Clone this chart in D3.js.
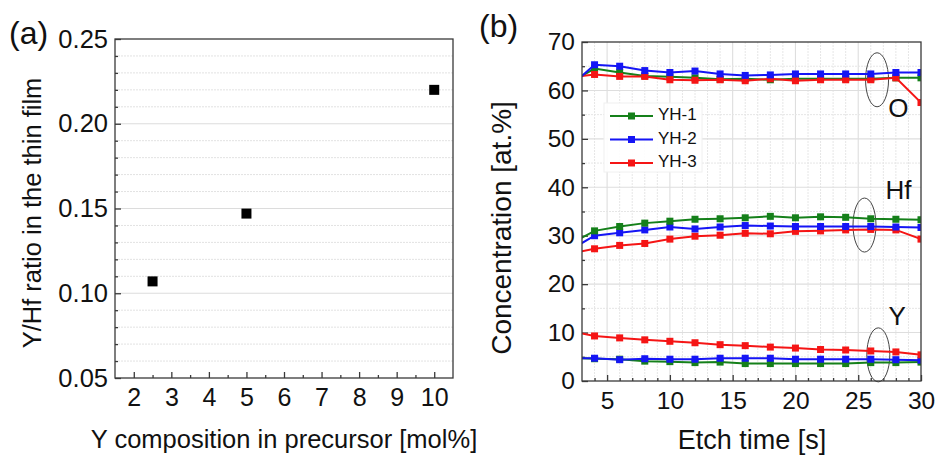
<!DOCTYPE html>
<html>
<head>
<meta charset="utf-8">
<script src="https://cdn.jsdelivr.net/npm/d3@7"></script>
<style>
  html, body { margin: 0; padding: 0; background: #fff; }
  svg { display: block; }
  svg text { font-family: Arial, "Liberation Sans", sans-serif; }
</style>
</head>
<body>
<svg id="chart" width="935" height="455"></svg>
<script>
// ---- Panel (a): Y/Hf ratio vs precursor composition ----
const precursorY = [2.5, 5, 10];
const ratioYHf = [0.107, 0.147, 0.220];
const aXTicks = [2, 3, 4, 5, 6, 7, 8, 9, 10];
const aYTicks = [0.05, 0.10, 0.15, 0.20, 0.25];

// ---- Panel (b): depth profile vs etch time ----
const etchTime = [2, 4, 6, 8, 10, 12, 14, 16, 18, 20, 22, 24, 26, 28, 30];
const seriesNames = ["YH-1", "YH-2", "YH-3"];
const oYH1  = [61.5, 64.5, 63.7, 63.0, 62.8, 62.6, 62.3, 62.4, 62.2, 62.4, 62.4, 62.4, 62.4, 62.6, 62.6];
const oYH2  = [60.7, 65.3, 65.0, 64.1, 63.7, 64.0, 63.4, 63.1, 63.2, 63.4, 63.4, 63.4, 63.4, 63.7, 63.7];
const oYH3  = [62.7, 63.3, 62.9, 62.9, 62.2, 62.1, 62.2, 62.0, 62.4, 62.0, 62.2, 62.2, 62.2, 62.6, 57.5];
const hfYH1 = [28.2, 31.0, 31.9, 32.6, 33.0, 33.4, 33.5, 33.7, 34.0, 33.7, 33.9, 33.8, 33.5, 33.4, 33.3];
const hfYH2 = [27.0, 30.0, 30.6, 31.2, 31.8, 31.4, 31.8, 32.1, 32.0, 31.9, 31.9, 31.9, 31.9, 31.8, 31.7];
const hfYH3 = [26.3, 27.3, 28.0, 28.4, 29.3, 29.9, 30.1, 30.5, 30.4, 30.9, 31.0, 31.2, 31.3, 31.2, 29.3];
const yYH1  = [4.8, 4.6, 4.5, 4.1, 4.0, 3.8, 3.9, 3.6, 3.6, 3.6, 3.6, 3.6, 3.8, 3.8, 3.9];
const yYH2  = [4.7, 4.7, 4.4, 4.6, 4.5, 4.5, 4.7, 4.7, 4.7, 4.5, 4.5, 4.5, 4.5, 4.4, 4.3];
const yYH3  = [10.3, 9.3, 8.9, 8.5, 8.2, 7.9, 7.5, 7.3, 7.0, 6.8, 6.5, 6.4, 6.2, 6.0, 5.4];
const bXTicks = [5, 10, 15, 20, 25, 30];
const bYTicks = [0, 10, 20, 30, 40, 50, 60, 70];
const elementLabels = ["O", "Hf", "Y"];

const colors = { "YH-1": "#15801a", "YH-2": "#1515f5", "YH-3": "#f51515" };
const frameColor = "#3a3a3a";
const FONT = 'Arial, "Liberation Sans", sans-serif';

const svg = d3.select("#chart");

function drawFrame(g, w, h) {
  g.append("rect").attr("x", 0).attr("y", 0).attr("width", w).attr("height", h)
    .attr("fill", "none").attr("stroke", frameColor).attr("stroke-width", 1.3);
}

function styleAxis(a, size) {
  a.attr("font-family", FONT);
  a.select(".domain").remove();
  a.selectAll("line").attr("stroke", frameColor).attr("stroke-width", 1.3);
  a.selectAll("text").attr("font-size", size).attr("fill", "#111");
}

// ================= Panel (a) =================
{
  const L = 115, T = 39, W = 338, H = 339;
  const g = svg.append("g").attr("transform", `translate(${L},${T})`);
  const x = d3.scaleLinear().domain([1.5, 10.5]).range([0, W]);
  const y = d3.scaleLinear().domain([0.05, 0.25]).range([H, 0]);

  // minor grid every 0.01
  const minorY = d3.range(0.06, 0.25, 0.01).filter(v => Math.abs(v * 20 - Math.round(v * 20)) > 1e-6);
  g.append("g").selectAll("line").data(minorY).join("line")
    .attr("x1", 0).attr("x2", W).attr("y1", d => y(d)).attr("y2", d => y(d))
    .attr("stroke", "#e2e2e2").attr("stroke-width", 1).attr("stroke-dasharray", "2,1");
  g.append("g").selectAll("line").data([0.10, 0.15, 0.20]).join("line")
    .attr("x1", 0).attr("x2", W).attr("y1", d => y(d)).attr("y2", d => y(d))
    .attr("stroke", "#dcdcdc").attr("stroke-width", 1.2);

  // axes with inward ticks
  const yAxis = d3.axisLeft(y).tickValues(aYTicks).tickFormat(d3.format(".2f")).tickSize(-6).tickPadding(7);
  const yMinor = d3.axisLeft(y).tickValues(minorY).tickFormat("").tickSize(-3);
  const xAxis = d3.axisBottom(x).tickValues(aXTicks).tickFormat(d3.format("d")).tickSize(-6).tickPadding(10);
  const xMinor = d3.axisBottom(x).tickValues(d3.range(2.5, 10, 1)).tickFormat("").tickSize(-3);

  [yAxis, yMinor].forEach(ax => styleAxis(g.append("g").call(ax), 25.5));
  [xAxis, xMinor].forEach(ax => styleAxis(g.append("g").attr("transform", `translate(0,${H})`).call(ax), 25));

  drawFrame(g, W, H);

  g.append("g").selectAll("rect").data(precursorY).join("rect")
    .attr("x", (d) => x(d) - 5).attr("y", (d, i) => y(ratioYHf[i]) - 5)
    .attr("width", 10).attr("height", 10).attr("fill", "#000");

  svg.append("text").attr("x", 9).attr("y", 44).attr("font-size", 32).attr("fill", "#111").text("(a)");
  svg.append("text").attr("transform", `translate(41,213) rotate(-90)`)
    .attr("text-anchor", "middle").attr("font-size", 25.5).attr("fill", "#111")
    .text("Y/Hf ratio in the thin film");
  svg.append("text").attr("x", 284).attr("y", 448).attr("text-anchor", "middle")
    .attr("font-size", 25.5).attr("fill", "#111").text("Y composition in precursor [mol%]");
}

// ================= Panel (b) =================
{
  const L = 582, T = 42, W = 339, H = 339;
  const g = svg.append("g").attr("transform", `translate(${L},${T})`);
  const x = d3.scaleLinear().domain([3, 30]).range([0, W]);
  const y = d3.scaleLinear().domain([0, 70]).range([H, 0]);

  svg.append("defs").append("clipPath").attr("id", "clipB")
    .append("rect").attr("x", 0).attr("y", 0).attr("width", W).attr("height", H);

  // grid
  const minorX = d3.range(4, 30).filter(v => v % 5 !== 0);
  g.append("g").selectAll("line").data(minorX).join("line")
    .attr("x1", d => x(d)).attr("x2", d => x(d)).attr("y1", 0).attr("y2", H)
    .attr("stroke", "#e6e6e6").attr("stroke-width", 1).attr("stroke-dasharray", "2,1");
  g.append("g").selectAll("line").data([5, 10, 15, 20, 25]).join("line")
    .attr("x1", d => x(d)).attr("x2", d => x(d)).attr("y1", 0).attr("y2", H)
    .attr("stroke", "#dedede").attr("stroke-width", 1.1);
  g.append("g").selectAll("line").data([5, 15, 25, 35, 45, 55, 65]).join("line")
    .attr("x1", 0).attr("x2", W).attr("y1", d => y(d)).attr("y2", d => y(d))
    .attr("stroke", "#e6e6e6").attr("stroke-width", 1).attr("stroke-dasharray", "2,1");
  g.append("g").selectAll("line").data([10, 20, 30, 40, 50, 60]).join("line")
    .attr("x1", 0).attr("x2", W).attr("y1", d => y(d)).attr("y2", d => y(d))
    .attr("stroke", "#dedede").attr("stroke-width", 1.1);

  const yAxis = d3.axisLeft(y).tickValues(bYTicks).tickFormat(d3.format("d")).tickSize(-6).tickPadding(7);
  const yMinor = d3.axisLeft(y).tickValues([5, 15, 25, 35, 45, 55, 65]).tickFormat("").tickSize(-3);
  const xAxis = d3.axisBottom(x).tickValues(bXTicks).tickFormat(d3.format("d")).tickSize(-6).tickPadding(11);
  const xMinor = d3.axisBottom(x).tickValues(minorX).tickFormat("").tickSize(-3);
  [yAxis, yMinor].forEach(ax => styleAxis(g.append("g").call(ax), 24.5));
  [xAxis, xMinor].forEach(ax => styleAxis(g.append("g").attr("transform", `translate(0,${H})`).call(ax), 24.5));

  // ellipses grouping each element's curves
  const groups = [
    { t: 26.5, v: 62.2, label: elementLabels[0], lx: 28.2, lv: 56.0 },
    { t: 25.5, v: 32.2, label: elementLabels[1], lx: 28.2, lv: 39.0 },
    { t: 26.6, v: 5.4,  label: elementLabels[2], lx: 28.1, lv: 13.0 }
  ];
  g.append("g").selectAll("ellipse").data(groups).join("ellipse")
    .attr("cx", d => x(d.t)).attr("cy", d => y(d.v)).attr("rx", 11.5).attr("ry", 27)
    .attr("fill", "none").attr("stroke", "#444").attr("stroke-width", 1);
  g.append("g").selectAll("text").data(groups).join("text")
    .attr("x", d => x(d.lx)).attr("y", d => y(d.lv)).attr("text-anchor", "middle")
    .attr("dominant-baseline", "middle").attr("font-size", 26).attr("fill", "#111")
    .text(d => d.label);

  const curves = [
    { name: "YH-1", values: oYH1 }, { name: "YH-3", values: oYH3 }, { name: "YH-2", values: oYH2 },
    { name: "YH-3", values: hfYH3 }, { name: "YH-2", values: hfYH2 }, { name: "YH-1", values: hfYH1 },
    { name: "YH-1", values: yYH1 }, { name: "YH-2", values: yYH2 }, { name: "YH-3", values: yYH3 }
  ];
  const line = d3.line().x((d, i) => x(etchTime[i])).y(d => y(d));
  const plot = g.append("g").attr("clip-path", "url(#clipB)");
  curves.forEach(c => {
    plot.append("path").datum(c.values).attr("d", line)
      .attr("fill", "none").attr("stroke", colors[c.name]).attr("stroke-width", 2);
    plot.append("g").selectAll("rect").data(c.values).join("rect")
      .attr("x", (d, i) => x(etchTime[i]) - 3.5).attr("y", d => y(d) - 3.5)
      .attr("width", 7).attr("height", 7).attr("fill", colors[c.name]);
  });

  drawFrame(g, W, H);

  // legend
  const lg = svg.append("g").attr("transform", "translate(604,103)");
  lg.append("rect").attr("x", 0).attr("y", 0).attr("width", 98).attr("height", 69)
    .attr("fill", "#fff").attr("fill-opacity", 0.9).attr("stroke", "#f0f0f0");
  seriesNames.forEach((s, i) => {
    const yy = 13 + i * 23.5;
    lg.append("line").attr("x1", 6).attr("x2", 49).attr("y1", yy).attr("y2", yy)
      .attr("stroke", colors[s]).attr("stroke-width", 2);
    lg.append("rect").attr("x", 24).attr("y", yy - 3.5).attr("width", 7).attr("height", 7).attr("fill", colors[s]);
    lg.append("text").attr("x", 54).attr("y", yy).attr("dominant-baseline", "middle")
      .attr("font-size", 17).attr("fill", "#111").text(s);
  });

  svg.append("text").attr("x", 479).attr("y", 37).attr("font-size", 32).attr("fill", "#111").text("(b)");
  svg.append("text").attr("transform", `translate(511,228) rotate(-90)`)
    .attr("text-anchor", "middle").attr("font-size", 28).attr("fill", "#111")
    .text("Concentration [at.%]");
  svg.append("text").attr("x", 752).attr("y", 449).attr("text-anchor", "middle")
    .attr("font-size", 27).attr("fill", "#111").text("Etch time [s]");
}
</script>
</body>
</html>
